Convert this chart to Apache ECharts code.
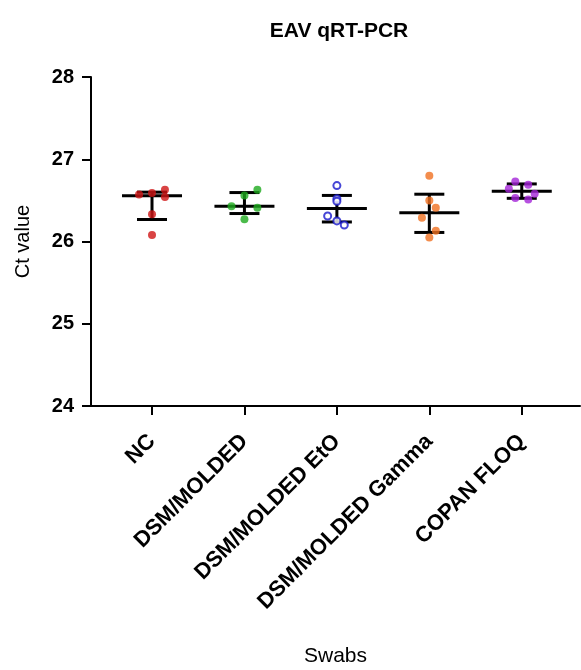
<!DOCTYPE html>
<html lang="en">
<head>
    <meta charset="UTF-8">
    <title>EAV qRT-PCR</title>
    <script src="https://cdn.jsdelivr.net/npm/echarts@6/dist/echarts.min.js"></script>
    <style>
        html, body { margin: 0; padding: 0; background: #ffffff; }
        #chart { width: 581px; height: 670px; }
    </style>
</head>
<body>
    <div id="chart"></div>
    <script>
        // swab groups on the x axis
        const categories = ['NC', 'DSM/MOLDED', 'DSM/MOLDED EtO', 'DSM/MOLDED Gamma', 'COPAN FLOQ'];

        // Ct values per replicate
        const ncValues     = [26.57, 26.59, 26.63, 26.54, 26.33, 26.08];
        const moldedValues = [26.63, 26.56, 26.43, 26.41, 26.27];
        const etoValues    = [26.68, 26.52, 26.49, 26.31, 26.25, 26.20];
        const gammaValues  = [26.80, 26.50, 26.41, 26.29, 26.13, 26.05];
        const floqValues   = [26.73, 26.69, 26.64, 26.58, 26.53, 26.51];

        // horizontal scatter of each dot, in category units
        const ncJitter     = [-0.14, 0, 0.14, 0.14, 0, 0];
        const moldedJitter = [0.14, 0, -0.14, 0.14, 0];
        const etoJitter    = [0, 0, 0, -0.1, 0, 0.08];
        const gammaJitter  = [0, 0, 0.07, -0.08, 0.07, 0];
        const floqJitter   = [-0.07, 0.07, -0.14, 0.14, -0.07, 0.07];

        const groupValues = [ncValues, moldedValues, etoValues, gammaValues, floqValues];
        const groupJitter = [ncJitter, moldedJitter, etoJitter, gammaJitter, floqJitter];
        const colors = ['#d01515', '#1eaa1e', '#1818cc', '#f07020', '#a424d8'];

        // prism style quartiles: position q*(n+1)
        function quantile(sorted, q) {
            const pos = q * (sorted.length + 1);
            const lo = Math.floor(pos);
            if (lo < 1) return sorted[0];
            if (lo >= sorted.length) return sorted[sorted.length - 1];
            return sorted[lo - 1] + (pos - lo) * (sorted[lo] - sorted[lo - 1]);
        }

        const summary = groupValues.map(function (vals, i) {
            const s = vals.slice().sort(function (a, b) { return a - b; });
            return [i + 1, quantile(s, 0.25), quantile(s, 0.5), quantile(s, 0.75)];
        });

        const font = 'Arial, "Liberation Sans", sans-serif';

        const series = [{
            type: 'custom',
            z: 2,
            data: summary,
            renderItem: function (params, api) {
                const x = api.value(0);
                const lo = api.coord([x, api.value(1)]);
                const mid = api.coord([x, api.value(2)]);
                const hi = api.coord([x, api.value(3)]);
                const style = { stroke: '#000', lineWidth: 3 };
                return {
                    type: 'group',
                    children: [
                        { type: 'line', shape: { x1: lo[0], y1: lo[1], x2: hi[0], y2: hi[1] }, style: style },
                        { type: 'line', shape: { x1: mid[0] - 30, y1: mid[1], x2: mid[0] + 30, y2: mid[1] }, style: style },
                        { type: 'line', shape: { x1: lo[0] - 15, y1: lo[1], x2: lo[0] + 15, y2: lo[1] }, style: style },
                        { type: 'line', shape: { x1: hi[0] - 15, y1: hi[1], x2: hi[0] + 15, y2: hi[1] }, style: style }
                    ]
                };
            }
        }];

        groupValues.forEach(function (vals, i) {
            series.push({
                name: categories[i],
                type: 'scatter',
                z: 3,
                symbol: i === 2 ? 'emptyCircle' : 'circle',
                symbolSize: i === 2 ? 7 : 8,
                itemStyle: i === 2
                    ? { color: colors[i], borderColor: colors[i], borderWidth: 2.5 }
                    : { color: colors[i] },
                data: vals.map(function (v, j) { return [i + 1 + groupJitter[i][j], v]; })
            });
        });

        const option = {
            backgroundColor: '#ffffff',
            animation: false,
            title: {
                text: 'EAV qRT-PCR',
                left: 334,
                top: 16,
                textAlign: 'center',
                textStyle: { fontFamily: font, fontSize: 21, fontWeight: 'bold', color: '#000' }
            },
            grid: { left: 91, right: 1, top: 77, bottom: 264, containLabel: false },
            xAxis: {
                type: 'value',
                min: 0.34,
                max: 5.63,
                name: 'Swabs',
                nameLocation: 'middle',
                nameGap: 240,
                nameTextStyle: { fontFamily: font, fontSize: 21, color: '#000' },
                splitLine: { show: false },
                axisLine: { lineStyle: { color: '#000', width: 2 } },
                axisTick: { customValues: [1, 2, 3, 4, 5], length: 9, lineStyle: { color: '#000', width: 2 } },
                axisLabel: {
                    customValues: [1, 2, 3, 4, 5],
                    formatter: function (v) { return categories[Math.round(v) - 1]; },
                    rotate: 45,
                    margin: 32,
                    fontFamily: font,
                    fontSize: 22,
                    fontWeight: 'bold',
                    color: '#000'
                }
            },
            yAxis: {
                type: 'value',
                min: 24,
                max: 28,
                interval: 1,
                name: 'Ct value',
                nameLocation: 'middle',
                nameRotate: 90,
                nameGap: 58,
                nameTextStyle: { fontFamily: font, fontSize: 20, color: '#000' },
                splitLine: { show: false },
                axisLine: { show: true, lineStyle: { color: '#000', width: 2 } },
                axisTick: { show: true, length: 9, lineStyle: { color: '#000', width: 2 } },
                axisLabel: { margin: 17, fontFamily: font, fontSize: 20, fontWeight: 'bold', color: '#000' }
            },
            series: series
        };

        const chart = echarts.init(document.getElementById('chart'));
        chart.setOption(option);
    </script>
</body>
</html>
